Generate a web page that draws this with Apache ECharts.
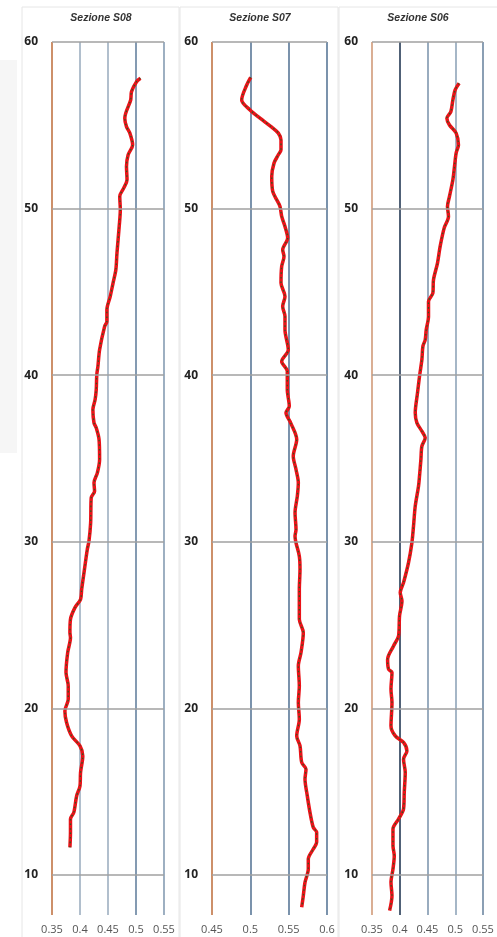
<!DOCTYPE html>
<html>
<head>
<meta charset="utf-8">
<script src="https://cdn.jsdelivr.net/npm/echarts@6/dist/echarts.min.js"></script>
<style>html,body{margin:0;padding:0;background:#fff}#c{width:497px;height:937px}</style>
</head>
<body>
<div id="c"></div>
<script>
// Panel titles
const titles = ['Sezione S08', 'Sezione S07', 'Sezione S06'];
// Y tick labels (depth)
const yTicks = [10, 20, 30, 40, 50, 60];
// X tick ranges
const xRanges = [[0.35, 0.55], [0.45, 0.6], [0.35, 0.55]];

// Sezione S08
const depthS08 = [57.82,57.62,57.02,56.52,55.43,54.92,54.53,53.82,53.23,52.52,51.73,51.23,50.73,49.93,48.93,47.33,46.33,45.53,44.73,43.93,43.23,42.93,41.53,40.53,40.04,39.14,38.54,37.94,37.14,36.84,36.14,34.94,34.14,33.54,33.04,32.64,31.14,30.04,29.54,28.35,27.15,26.55,26.05,25.35,24.55,24.25,23.35,22.15,21.35,20.55,19.85,19.15,18.35,17.75,17.15,16.16,15.35,14.75,13.76,13.36,12.56,11.66];
const valS08 = [0.508,0.501,0.492,0.4905,0.480,0.483,0.489,0.494,0.486,0.483,0.484,0.478,0.471,0.472,0.470,0.466,0.464,0.459,0.454,0.448,0.448,0.444,0.435,0.432,0.430,0.429,0.427,0.423,0.425,0.429,0.434,0.435,0.431,0.425,0.426,0.420,0.419,0.416,0.413,0.408,0.403,0.401,0.391,0.383,0.382,0.383,0.378,0.375,0.379,0.379,0.373,0.376,0.385,0.400,0.405,0.401,0.400,0.394,0.389,0.383,0.383,0.382];

// Sezione S07
const depthS07 = [57.88,57.42,56.52,55.92,55.43,54.89,54.53,54.12,53.53,53.23,52.73,51.92,51.03,50.53,50.13,49.53,48.93,48.23,47.53,47.13,46.53,45.53,44.73,44.13,43.53,42.73,41.53,40.83,40.23,39.14,38.14,37.74,37.14,36.14,35.14,34.34,33.54,32.74,31.74,30.74,30.34,29.14,28.35,27.15,25.95,25.35,24.55,23.35,22.55,21.35,20.35,19.35,18.35,17.75,16.76,16.35,15.76,14.75,13.76,12.86,12.56,11.96,11.56,10.96,10.36,9.56,8.76,8.06];
const valS07 = [0.5005,0.4953,0.4887,0.4996,0.5126,0.5279,0.5365,0.540,0.540,0.5365,0.5309,0.5279,0.5292,0.5344,0.5387,0.5409,0.5452,0.5487,0.5422,0.5439,0.5409,0.540,0.5452,0.5422,0.5452,0.5452,0.5495,0.5409,0.5482,0.5482,0.5508,0.5465,0.5526,0.5605,0.556,0.5596,0.5626,0.5613,0.5583,0.5596,0.5583,0.5639,0.5648,0.5639,0.5639,0.5639,0.5691,0.5661,0.5626,0.5639,0.5626,0.5639,0.5605,0.5648,0.567,0.5726,0.5713,0.5743,0.5778,0.5821,0.5865,0.5865,0.5821,0.5756,0.5756,0.5713,0.5691,0.567];

// Sezione S06
const depthS06 = [57.52,57.12,56.52,55.82,55.43,55.02,54.53,53.82,53.33,52.52,51.73,50.73,50.13,49.53,48.83,47.73,46.73,45.73,44.93,44.43,43.53,42.73,42.13,41.73,40.94,39.93,38.94,37.74,37.14,36.64,36.24,35.74,34.94,33.94,33.34,32.14,30.94,29.95,28.75,27.55,26.95,26.44,25.55,24.35,23.75,22.95,22.35,22.15,21.15,20.35,18.95,18.35,17.96,17.45,16.95,16.16,14.96,13.96,13.36,12.76,11.76,11.16,10.36,9.56,8.76,7.86];
const valS06 = [0.507,0.4998,0.4957,0.4921,0.4849,0.4896,0.5016,0.5058,0.5016,0.4986,0.4957,0.4896,0.486,0.4878,0.48,0.4728,0.468,0.4608,0.4597,0.4518,0.4518,0.4477,0.4459,0.4417,0.4399,0.4356,0.432,0.4279,0.4309,0.4399,0.4459,0.4399,0.4381,0.4356,0.4338,0.4279,0.4248,0.4219,0.4158,0.4068,0.4009,0.404,0.3996,0.3978,0.3888,0.3781,0.3799,0.386,0.3842,0.386,0.3842,0.3919,0.4068,0.4129,0.4068,0.4099,0.4081,0.4068,0.3978,0.3878,0.3878,0.3901,0.3878,0.3842,0.386,0.3817];

const panels = [[valS08, depthS08], [valS07, depthS07], [valS06, depthS06]];

const gridPos = [
  {left: 52, right: 333, top: 42, bottom: 22},
  {left: 212, right: 170, top: 42, bottom: 22},
  {left: 372, right: 14, top: 42, bottom: 22}
];
const vColors = [
  ['#c8845a', '#a9b8c8', '#a9b8c8', '#7790aa', '#93a7bb'],
  ['#c8845a', '#6c87a3', '#6c87a3', '#6c87a3'],
  ['#d6a688', '#3d5068', '#8ea3b8', '#9cafc1', '#7e95ac']
];
const titleX = [101, 260, 418];

const chart = echarts.init(document.getElementById('c'), null, {renderer: 'canvas'});
const grids = [], xAxes = [], yAxes = [], series = [];
panels.forEach((p, i) => {
  grids.push(Object.assign({containLabel: false}, gridPos[i]));
  xAxes.push({
    type: 'value', gridIndex: i, min: xRanges[i][0], max: xRanges[i][1], interval: 0.05,
    axisLine: {show: false}, axisTick: {show: false},
    axisLabel: {margin: 9, fontSize: 11, color: '#555', fontFamily: 'Open Sans',
      formatter: v => String(+v.toFixed(2))},
    splitLine: {show: true, lineStyle: {color: vColors[i], width: 1.8}}
  });
  yAxes.push({
    type: 'value', gridIndex: i, min: 7.6, max: 60,
    axisLine: {show: false}, axisTick: {show: false},
    splitLine: {show: false},
    axisLabel: {customValues: yTicks, margin: 14, fontSize: 12, fontWeight: 'bold', color: '#222', fontFamily: 'Open Sans'}
  });
  const data = p[0].map((v, k) => [v, p[1][k]]);
  series.push({
    type: 'line', xAxisIndex: i, yAxisIndex: i, data: data, z: 1, silent: true,
    showSymbol: false, lineStyle: {opacity: 0, width: 0},
    markLine: {silent: true, symbol: 'none', label: {show: false},
      lineStyle: {color: '#a0a0a0', width: 1.5, type: 'solid'},
      data: yTicks.map(t => ({yAxis: t}))}
  });
  series.push({
    type: 'line', xAxisIndex: i, yAxisIndex: i, data: data, z: 3, silent: true,
    showSymbol: false, smooth: 0.3,
    lineStyle: {color: '#ea1218', width: 3.5}
  });
  series.push({
    type: 'line', xAxisIndex: i, yAxisIndex: i, data: data, z: 4, silent: true,
    showSymbol: false, smooth: 0.3,
    lineStyle: {color: '#2f5a20', width: 1.3, type: [1.5, 3]}
  });
});

const graphics = [
  {type: 'rect', shape: {x: 0, y: 60, width: 17, height: 393}, style: {fill: '#f6f6f6'}, z: -10},
  {type: 'rect', shape: {x: 22, y: 7, width: 157, height: 935}, style: {fill: '#fff', stroke: '#e6e6e6', lineWidth: 1}, z: -9},
  {type: 'rect', shape: {x: 180, y: 7, width: 158, height: 935}, style: {fill: '#fff', stroke: '#e6e6e6', lineWidth: 1}, z: -9},
  {type: 'rect', shape: {x: 339, y: 7, width: 160, height: 935}, style: {fill: '#fff', stroke: '#e6e6e6', lineWidth: 1}, z: -9}
];
titles.forEach((t, i) => graphics.push({
  type: 'text', x: titleX[i], y: 18, z: 10,
  style: {text: t, textAlign: 'center', textVerticalAlign: 'middle', fill: '#333',
    font: 'italic bold 10.5px "Liberation Sans", Arial, sans-serif'}
}));

chart.setOption({
  animation: false,
  backgroundColor: '#fff',
  grid: grids, xAxis: xAxes, yAxis: yAxes, series: series,
  graphic: graphics
});
</script>
</body>
</html>
